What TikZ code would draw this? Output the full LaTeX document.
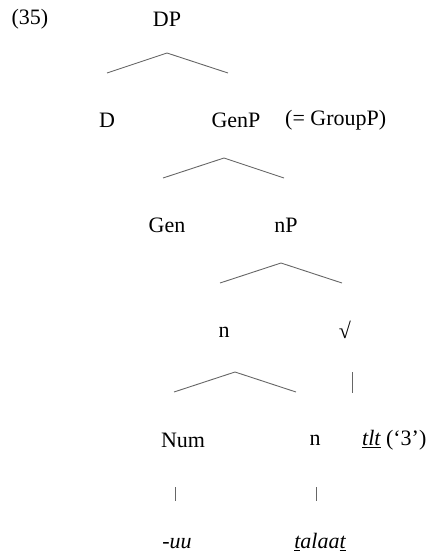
\documentclass[tikz,border=0pt]{standalone}
\usepackage{fontspec}
\setmainfont{Liberation Serif}
\begin{document}
\begin{tikzpicture}[x=1pt,y=-1pt,
  lab/.style={inner sep=0pt,font=\fontsize{22}{26}\selectfont},
  branch/.style={draw=black!60,line width=0.9pt}]
\useasboundingbox (0,0) rectangle (431,554);
\node[lab] (ex) at (30,19) {(35)};
\node[lab] (DP) at (167,19) {DP};
\node[lab] (D) at (107,120) {D};
\node[lab] (GenP) at (236,120) {GenP};
\node[lab,anchor=west] (GP) at (285,120) {(= GroupP)};
\node[lab] (Gen) at (167,225) {Gen};
\node[lab] (nP) at (286,225) {nP};
\node[lab] (n1) at (224,332) {n};
\node[lab] (rt) at (345,330) {√};
\node[lab] (Num) at (183,440) {Num};
\node[lab] (n2) at (315,440) {n};
\node[lab,anchor=west] (tlt) at (362,440) {\textit{\underline{tlt}} (‘3’)};
\node[lab] (uu) at (177,544) {\textit{-uu}};
\node[lab] (talaat) at (320,542) {\textit{\underline{t}alaa\underline{t}}};
% branches
\coordinate (a1) at (167,53); \coordinate (l1) at (107,73); \coordinate (r1) at (228,73);
\coordinate (a2) at (224,158); \coordinate (l2) at (163,178); \coordinate (r2) at (284,178);
\coordinate (a3) at (281,263); \coordinate (l3) at (220,283); \coordinate (r3) at (342,283);
\coordinate (a4) at (235,372); \coordinate (l4) at (174,392); \coordinate (r4) at (296,392);
\coordinate (v1t) at (352,372); \coordinate (v1b) at (352,393);
\coordinate (v2t) at (175,487); \coordinate (v2b) at (175,501);
\coordinate (v3t) at (316,487); \coordinate (v3b) at (316,501);
\draw[branch] (l1) -- (a1) -- (r1);
\draw[branch] (l2) -- (a2) -- (r2);
\draw[branch] (l3) -- (a3) -- (r3);
\draw[branch] (l4) -- (a4) -- (r4);
\draw[branch] (v1t) -- (v1b);
\draw[branch] (v2t) -- (v2b);
\draw[branch] (v3t) -- (v3b);
\end{tikzpicture}
\end{document}
